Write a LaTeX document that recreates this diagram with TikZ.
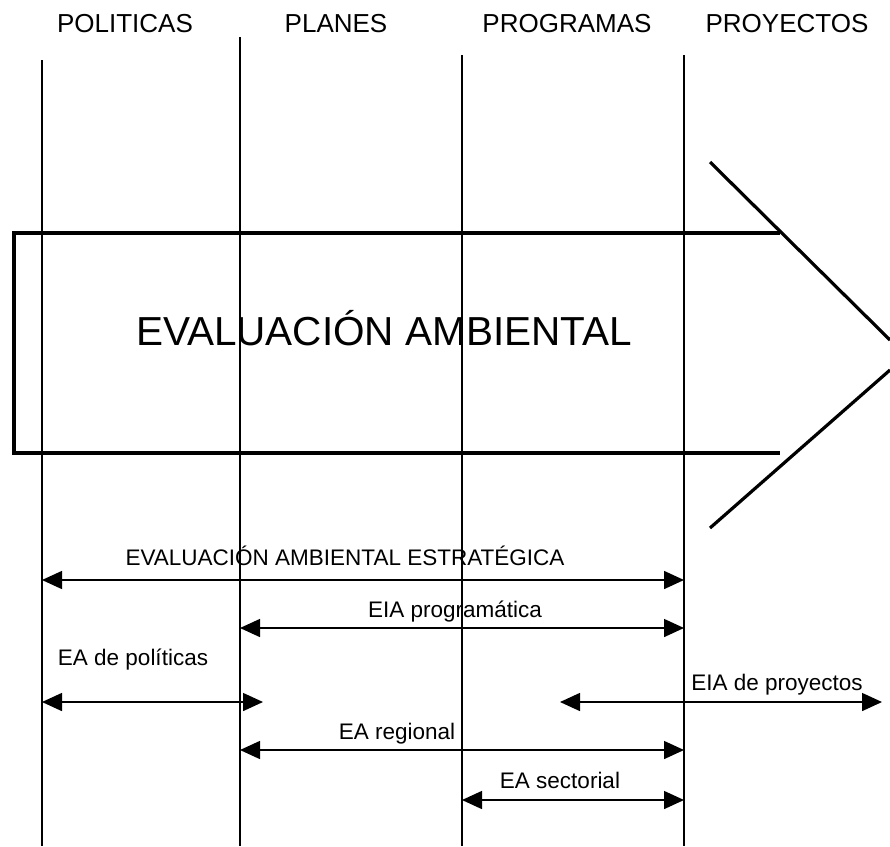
\documentclass[tikz,border=0pt]{standalone}
\usepackage{fontspec}
\setmainfont{Liberation Sans}
\usepackage{xcolor}
\usepackage{tikz}
\usetikzlibrary{arrows.meta}
\definecolor{ink}{HTML}{000000}

\begin{document}
\begin{tikzpicture}[x=1pt,y=-1pt,
  stage/.style={anchor=base,font=\fontsize{26}{30}\selectfont,text=ink},
  tag/.style={anchor=base,font=\fontsize{22.5}{26}\selectfont,text=ink},
  span/.style={{Triangle[length=20pt,width=18pt]}-{Triangle[length=20pt,width=18pt]},line width=1.5pt,draw=ink}]
\useasboundingbox (0,0) rectangle (890,846);
% stages along the top, each with its guide line
\foreach \name/\lbl/\cx/\lx/\top in {pol/POLITICAS/125/42/60, pla/PLANES/336/240/37,
                                     pro/PROGRAMAS/567/462/55, pry/PROYECTOS/787/684/55}{
  \node[stage] (\name) at (\cx,32) {\lbl};
  \coordinate (\name-top) at (\lx,\top);
  \coordinate (\name-bot) at (\lx,846);
  \draw[ink, line width=1.1pt] (\name-top) -- (\name-bot);
}
% big open arrow
\draw[ink, line width=3.2pt] (780,233) -- (14,233) -- (14,453) -- (780,453);
\draw[ink, line width=3.2pt] (710,162) -- (890,340);
\draw[ink, line width=3.2pt] (890,370) -- (710,528);
\node[anchor=base,font=\fontsize{40.5}{46}\selectfont,text=ink] (ea) at (384,345) {EVALUACIÓN AMBIENTAL};
% ranges of each kind of assessment
\foreach \name/\txt/\tx/\ty/\ay/\ax/\bx in {
    eae/EVALUACIÓN AMBIENTAL ESTRATÉGICA/345/565/580/42/684,
    eiap/EIA programática/455/617/628/240/684,
    eapol/EA de políticas/133/665/702/42/263,
    eiapr/EIA de proyectos/777/690/702/560/882,
    eareg/EA regional/397/739/750/240/684,
    easec/EA sectorial/560/788/800/462/684}{
  \node[tag] (\name) at (\tx,\ty) {\txt};
  \coordinate (\name-a) at (\ax,\ay);
  \coordinate (\name-b) at (\bx,\ay);
  \draw[span] (\name-a) -- (\name-b);
}
\end{tikzpicture}
\end{document}
